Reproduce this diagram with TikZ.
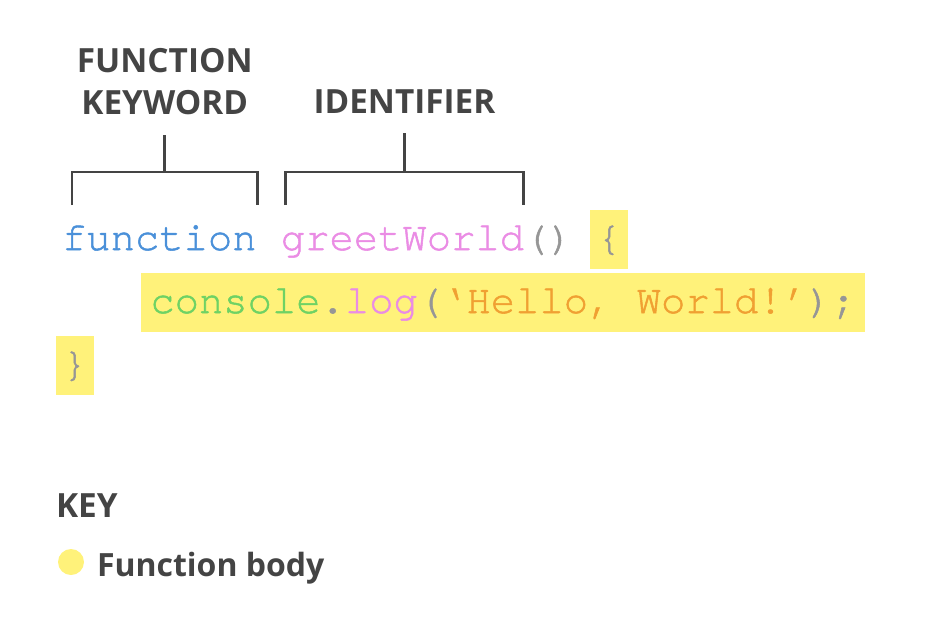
\documentclass[tikz,border=0pt]{standalone}
\usepackage{fontspec}
\setmainfont{Open Sans}
\setmonofont[FakeBold=1.3]{TeX Gyre Cursor}
\usetikzlibrary{positioning,calc}

\definecolor{kwblue}{RGB}{74,144,217}
\definecolor{idpink}{RGB}{234,140,228}
\definecolor{punct}{RGB}{150,150,150}
\definecolor{consgreen}{RGB}{110,210,100}
\definecolor{strorange}{RGB}{240,160,50}
\definecolor{hlyellow}{RGB}{255,242,122}
\definecolor{labelgray}{RGB}{68,68,68}

\begin{document}
\begin{tikzpicture}[
    x=0.75pt, y=-0.75pt,
    every node/.style={inner sep=0pt, outer sep=0pt},
    code/.style={
        font=\ttfamily\fontsize{30.4}{36}\selectfont,
        text height=30pt,
        text depth=14pt
    },
    hl/.style={fill=hlyellow, inner xsep=5pt},
    tag/.style={
        font=\bfseries\fontsize{25}{32}\selectfont,
        text=labelgray,
        align=center
    },
    bracket/.style={draw=labelgray, line width=2.2pt}
]
\useasboundingbox (0,0) rectangle (927,622);

% code
\node[code, text=kwblue, anchor=base west] (fnkw) at (62,250) {function};
\node[code, text=idpink, base right=18.24pt of fnkw] (ident) {greetWorld};
\node[code, text=punct, base right=0pt of ident] (parens) {()};
\node[code, hl, text=punct, base right=13.24pt of parens] (lbrace) {\{};
\node[code, hl, inner xsep=7pt, anchor=base west] (body) at (141,313)
    {\textcolor{consgreen}{console}\textcolor{punct}{.}\textcolor{idpink}{log}\textcolor{punct}{(}\textcolor{strorange}{‘Hello, World!’}\textcolor{punct}{);}};
\node[code, hl, text=punct, anchor=base west] (rbrace) at (56,376) {\}};

% brackets
\coordinate (fnfoot1) at ([shift={(7.5pt,3.75pt)}]fnkw.north west);
\coordinate (fnfoot2) at ([shift={(0.75pt,3.75pt)}]fnkw.north east);
\draw[bracket] (fnfoot1) -- ++(0,-33) coordinate (fnbar) -| (fnfoot2);
\draw[bracket] ($(fnbar)!.5!(fnbar -| fnfoot2)$) -- ++(0,-37) coordinate (fnstem);
\node[tag, above=15pt of fnstem] (fnlabel) {FUNCTION\\KEYWORD};

\coordinate (idfoot1) at ([shift={(3.75pt,3.75pt)}]ident.north west);
\coordinate (idfoot2) at ([shift={(-0.75pt,3.75pt)}]ident.north east);
\draw[bracket] (idfoot1) -- ++(0,-33) coordinate (idbar) -| (idfoot2);
\draw[bracket] ($(idbar)!.5!(idbar -| idfoot2)$) -- ++(0,-39) coordinate (idstem);
\node[tag, above=15pt of idstem] (idlabel) {IDENTIFIER};

% key
\node[tag, anchor=base west] (keyhead) at (56,517) {KEY};
\node[circle, fill=hlyellow, minimum size=19.5pt] (keydot) at (71,562) {};
\node[tag, font=\bfseries\fontsize{24}{30}\selectfont, anchor=base west] (keytext) at (97,576) {Function body};
\end{tikzpicture}
\end{document}
